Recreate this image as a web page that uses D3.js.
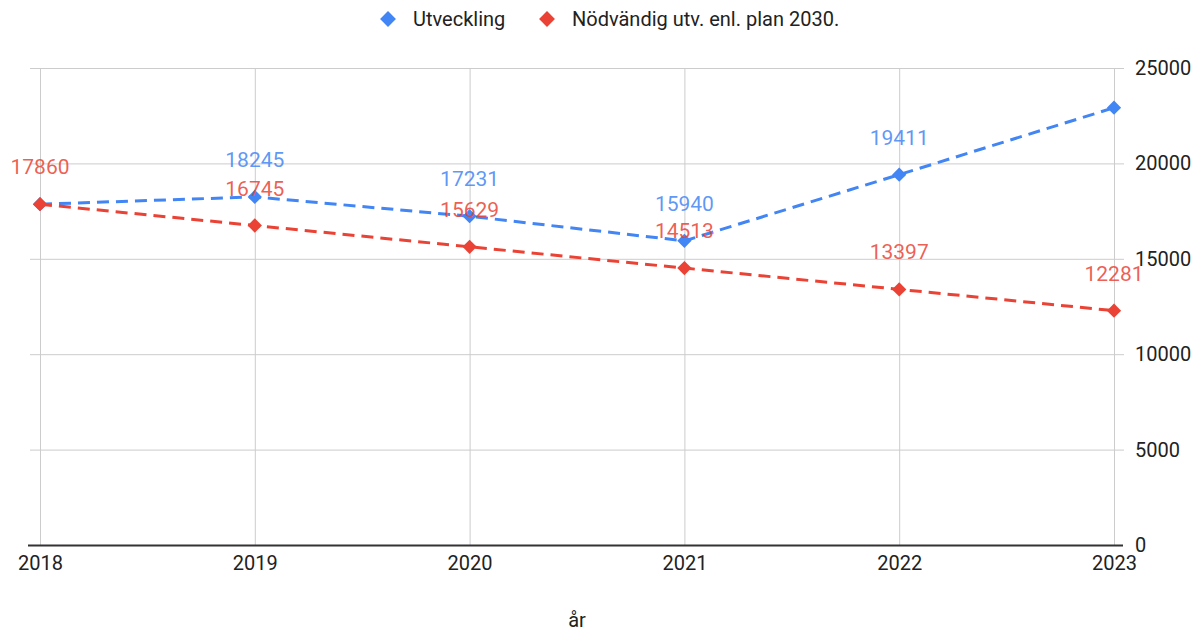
<!DOCTYPE html>
<html>
<head>
<meta charset="utf-8">
<script src="https://cdn.jsdelivr.net/npm/d3@7"></script>
<style>
  body { margin: 0; background: #fff; font-family: Roboto, Arial, sans-serif; }
</style>
</head>
<body>
<div id="chart"></div>
<script>
// data
var years = ["2018", "2019", "2020", "2021", "2022", "2023"];
var utveckling = [17860, 18245, 17231, 15940, 19411, 22920];
var planen = [17860, 16745, 15629, 14513, 13397, 12281];
// blue labels hidden where google sheets dropped them
var utvecklingLabelShown = [false, true, true, true, true, false];
var planLabelShown = [true, true, true, true, true, true];
var yTicks = [0, 5000, 10000, 15000, 20000, 25000];
var seriesNames = ["Utveckling", "Nödvändig utv. enl. plan 2030."];

var W = 1201, H = 632;
var blue = "#4285f4", red = "#ea4335";

var svg = d3.select("#chart").append("svg")
  .attr("width", W).attr("height", H);

var x = d3.scalePoint().domain(years).range([40, 1114]);
var y = d3.scaleLinear().domain([0, 25000]).range([545, 68]);

// horizontal grid
svg.append("g").selectAll("line").data(yTicks.filter(function(d){ return d > 0; }))
  .enter().append("line")
  .attr("x1", 30).attr("x2", 1124)
  .attr("y1", function(d){ return y(d) + 0.5; })
  .attr("y2", function(d){ return y(d) + 0.5; })
  .attr("stroke", "#cccccc").attr("stroke-width", 1);

// vertical grid
svg.append("g").selectAll("line").data(years)
  .enter().append("line")
  .attr("x1", function(d){ return x(d) + 0.5; })
  .attr("x2", function(d){ return x(d) + 0.5; })
  .attr("y1", y(25000)).attr("y2", y(0))
  .attr("stroke", "#cccccc").attr("stroke-width", 1);

// baseline
svg.append("line")
  .attr("x1", 28).attr("x2", 1123)
  .attr("y1", y(0) + 0.5).attr("y2", y(0) + 0.5)
  .attr("stroke", "#333333").attr("stroke-width", 2);

// y axis on the right
var yAxis = svg.append("g")
  .attr("transform", "translate(1124,0)")
  .call(d3.axisRight(y).tickValues(yTicks).tickFormat(d3.format("d")).tickSize(0).tickPadding(11));
yAxis.select(".domain").remove();
yAxis.selectAll("text")
  .style("font-family", "Roboto, Arial, sans-serif")
  .style("font-size", "20px").attr("fill", "#222");

// x axis
var xAxis = svg.append("g")
  .attr("transform", "translate(0," + y(0) + ")")
  .call(d3.axisBottom(x).tickSize(0).tickPadding(11));
xAxis.select(".domain").remove();
xAxis.selectAll("text")
  .style("font-family", "Roboto, Arial, sans-serif")
  .style("font-size", "20px").attr("fill", "#222");

svg.append("text")
  .attr("x", 577).attr("y", 627)
  .attr("text-anchor", "middle")
  .style("font-size", "20px").attr("fill", "#222")
  .text("år");

var series = [
  { name: seriesNames[0], values: utveckling, shown: utvecklingLabelShown, color: blue },
  { name: seriesNames[1], values: planen, shown: planLabelShown, color: red }
];

var line = d3.line()
  .x(function(d, i){ return x(years[i]); })
  .y(function(d){ return y(d); });

var diamond = d3.symbol().type(d3.symbolDiamond2).size(130);

series.forEach(function(s) {
  svg.append("path")
    .datum(s.values)
    .attr("d", line)
    .attr("fill", "none")
    .attr("stroke", s.color)
    .attr("stroke-width", 3)
    .attr("stroke-dasharray", "12,7");

  svg.append("g").selectAll("path").data(s.values)
    .enter().append("path")
    .attr("d", diamond)
    .attr("transform", function(d, i){ return "translate(" + x(years[i]) + "," + y(d) + ")"; })
    .attr("fill", s.color);
});

series.forEach(function(s) {
  svg.append("g").selectAll("text").data(s.values.map(function(v, i){ return { v: v, i: i }; }))
    .enter().append("text")
    .filter(function(d){ return s.shown[d.i]; })
    .attr("x", function(d){ return x(years[d.i]); })
    .attr("y", function(d){ return y(d.v) - 30; })
    .attr("text-anchor", "middle")
    .style("font-size", "21px")
    .attr("fill", s.color)
    .attr("fill-opacity", 0.85)
    .text(function(d){ return d.v; });
});

// legend
var legend = svg.append("g");
var legendItems = [
  { name: seriesNames[0], color: blue, x: 388 },
  { name: seriesNames[1], color: red, x: 547 }
];
legendItems.forEach(function(it) {
  legend.append("path")
    .attr("d", d3.symbol().type(d3.symbolDiamond2).size(160))
    .attr("transform", "translate(" + it.x + ",19)")
    .attr("fill", it.color);
  legend.append("text")
    .attr("x", it.x + 25).attr("y", 26)
    .style("font-size", "20px").attr("fill", "#222")
    .text(it.name);
});
</script>
</body>
</html>
